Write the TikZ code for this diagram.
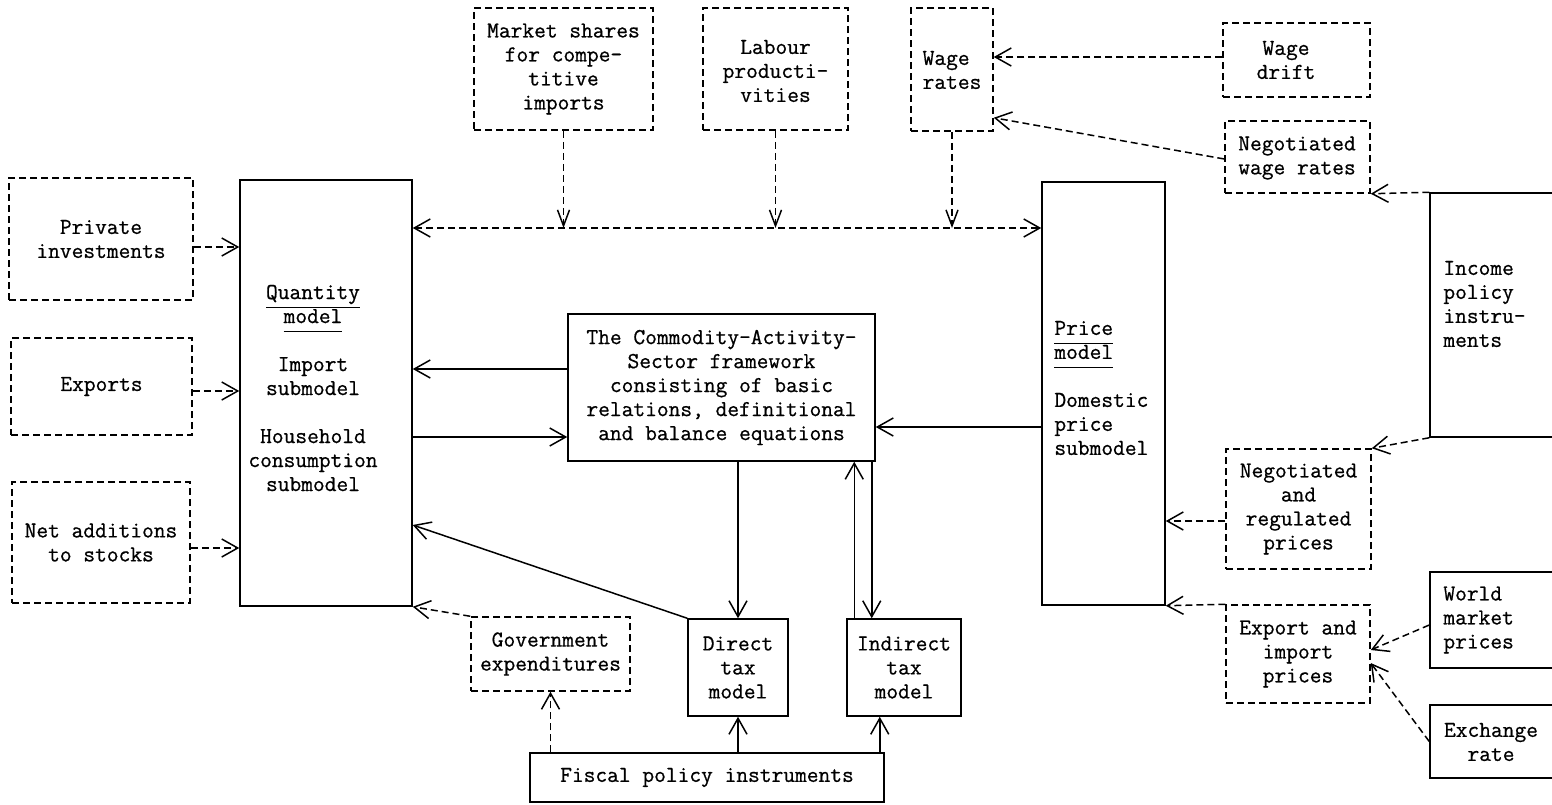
\documentclass[tikz,border=0pt]{standalone}
\usepackage{fontspec}
\usetikzlibrary{arrows.meta,fit,calc}
% typewriter face with a little extra stroke weight
\newfontfamily\typew[FakeBold=0.7]{Latin Modern Mono}
% underline with a common depth, so that all underlined words sit on one rule height
\newcommand\uln[1]{\underline{#1\vphantom{y}}}
\begin{document}
\begin{tikzpicture}[x=0.5pt,y=-0.5pt,
  every node/.style={font=\typew\fontsize{11.4}{12}\selectfont, align=center, inner sep=0pt},
  dashedbox/.style={draw, line width=0.75pt, dash pattern=on 3.5pt off 2pt},
  solidbox/.style={draw, line width=0.75pt},
  >={Straight Barb[length=8pt,width=9pt]},
  sline/.style={line width=0.75pt},
  dline/.style={line width=0.75pt, dash pattern=on 3.5pt off 2pt},
  narrowtip/.style={-{Straight Barb[length=8pt,width=6pt]}}]

\clip (0,0) rectangle (1552,804);

% ---------- exogenous inputs on the left ----------
\node[dashedbox, fit={(9,178) (193,300)}] (PI) {};
\node (PItext) at (PI.center) {Private\\investments};
\node[dashedbox, fit={(11,338) (192,435)}] (EX) {};
\node (EXtext) at (EX.center) {Exports};
\node[dashedbox, fit={(12,482) (190,603)}] (NA) {};
\node (NAtext) at (NA.center) {Net additions\\to stocks};

% ---------- quantity model ----------
\node[solidbox, fit={(240,180) (412,606)}] (Q) {};
\node (Qtext) at (313,388) {\uln{Quantity}\\\uln{model}\\[12pt]Import\\submodel\\[12pt]Household\\consumption\\submodel};

% ---------- top row ----------
\node[dashedbox, fit={(474,8) (653,130)}] (MS) {};
\node (MStext) at (MS.center) {Market shares\\for compe-\\titive\\imports};
\node[dashedbox, fit={(703,8) (848,130)}] (LP) {};
\node (LPtext) at ([yshift=-1pt]LP.center) {Labour\\producti-\\vities};
\node[dashedbox, fit={(911,8) (993,131)}] (WR) {};
\node[align=left] (WRtext) at (952,70) {Wage\\rates};
\node[dashedbox, fit={(1223,23) (1370,97)}] (WD) {};
\node (WDtext) at (1286,60) {Wage\\drift};
\node[dashedbox, fit={(1225,121) (1370,193)}] (NW) {};
\node[align=left] (NWtext) at (1297,158) {Negotiated\\wage rates};

% ---------- price model ----------
\node[solidbox, fit={(1042,182) (1165,605)}] (P) {};
\node[anchor=west, align=left] (Ptext) at (1054,388) {\uln{Price}\\\uln{model}\\[12pt]Domestic\\price\\submodel};

% ---------- right column ----------
\node[solidbox, fit={(1430,193) (1580,437)}] (IP) {};
\node[anchor=west, align=left] (IPtext) at (1443,304) {Income\\policy\\instru-\\ments};
\node[dashedbox, fit={(1226,449) (1371,569)}] (NR) {};
\node (NRtext) at (NR.center) {Negotiated\\and\\regulated\\prices};
\node[dashedbox, fit={(1226,605) (1370,703)}] (EI) {};
\node (EItext) at (EI.center) {Export and\\import\\prices};
\node[solidbox, fit={(1430,572) (1580,668)}] (WM) {};
\node[anchor=west, align=left] (WMtext) at (1443,620) {World\\market\\prices};
\node[solidbox, fit={(1430,705) (1580,778)}] (ER) {};
\node (ERtext) at (1491,742) {Exchange\\rate};

% ---------- central framework and tax models ----------
\node[solidbox, fit={(568,314) (875,461)}] (CAS) {};
\node (CAStext) at (CAS.center) {The Commodity-Activity-\\Sector framework\\consisting of basic\\relations, definitional\\and balance equations};
\node[solidbox, fit={(688,619) (788,716)}] (DT) {};
\node (DTtext) at (DT.center) {Direct\\tax\\model};
\node[solidbox, fit={(847,619) (961,716)}] (IT) {};
\node (ITtext) at (IT.center) {Indirect\\tax\\model};
\node[dashedbox, fit={(471,617) (630,691)}] (GE) {};
\node (GEtext) at (GE.center) {Government\\expenditures};
\node[solidbox, fit={(530,753) (884,802)}] (FP) {};
\node (FPtext) at (FP.center) {Fiscal policy instruments};

% ---------- connectors ----------
\coordinate (bus) at (700,228);
\draw[dline,<->] (bus -| Q.east) -- (bus -| P.west);
\draw[dline,narrowtip] (MS.south) -- (MS.south |- bus);
\draw[dline,narrowtip] (LP.south) -- (LP.south |- bus);
\draw[dline,narrowtip] (WR.south) -- (WR.south |- bus);

\draw[dline,->] ([yshift=-4pt]PI.east) -- ([yshift=-4pt]PI.east -| Q.west);
\draw[dline,->] ([yshift=-2.25pt]EX.east) -- ([yshift=-2.25pt]EX.east -| Q.west);
\draw[dline,->] ([yshift=-2.75pt]NA.east) -- ([yshift=-2.75pt]NA.east -| Q.west);

\draw[dline,->] ([yshift=1.5pt]WD.west) -- ([yshift=1.5pt]WD.west -| WR.east);
\draw[dline,->] ([yshift=-1pt]NW.west) -- ([yshift=7pt]WR.south east);
\draw[dline,->] (IP.north west) -- (NW.south east);
\draw[dline,->] (IP.south west) -- (NR.north east);
\draw[dline,->] ([yshift=-6pt]NR.west) -- ([yshift=-6pt]NR.west -| P.east);
\draw[dline,->] (EI.north west) -- (P.south east);
\draw[dline,->] ([yshift=-2.5pt]WM.west) -- ([yshift=2pt]EI.east);
\draw[dline,->] (ER.west) -- ([yshift=-4.5pt]EI.east);

\draw[sline,->] ([yshift=9.25pt]CAS.west) -- ([yshift=9.25pt]CAS.west -| Q.east);
\draw[sline,->] ([yshift=-24.75pt]CAS.west -| Q.east) -- ([yshift=-24.75pt]CAS.west);
\draw[sline,->] ([yshift=-19.75pt]CAS.east -| P.west) -- ([yshift=-19.75pt]CAS.east);
\draw[sline,->] (DT.north |- CAS.south) -- (DT.north);
\draw[sline,->] (DT.north west) -- ([yshift=-66pt]Q.east);
\draw[sline,->] ([xshift=4pt]IT.north west) -- ([xshift=4pt]IT.north west |- CAS.south);
\draw[sline,->] ([xshift=-2pt]CAS.south east) -- ([xshift=-2pt]CAS.south east |- IT.north);

\draw[dline,->] (GE.north west) -- (Q.south east);
\draw[dline,->] (GE.south |- FP.north) -- (GE.south);
\draw[sline,->] (DT.south |- FP.north) -- (DT.south);
\draw[sline,->] ([xshift=-2.5pt]FP.north east) -- ([xshift=-2.5pt]FP.north east |- IT.south);
\end{tikzpicture}
\end{document}
